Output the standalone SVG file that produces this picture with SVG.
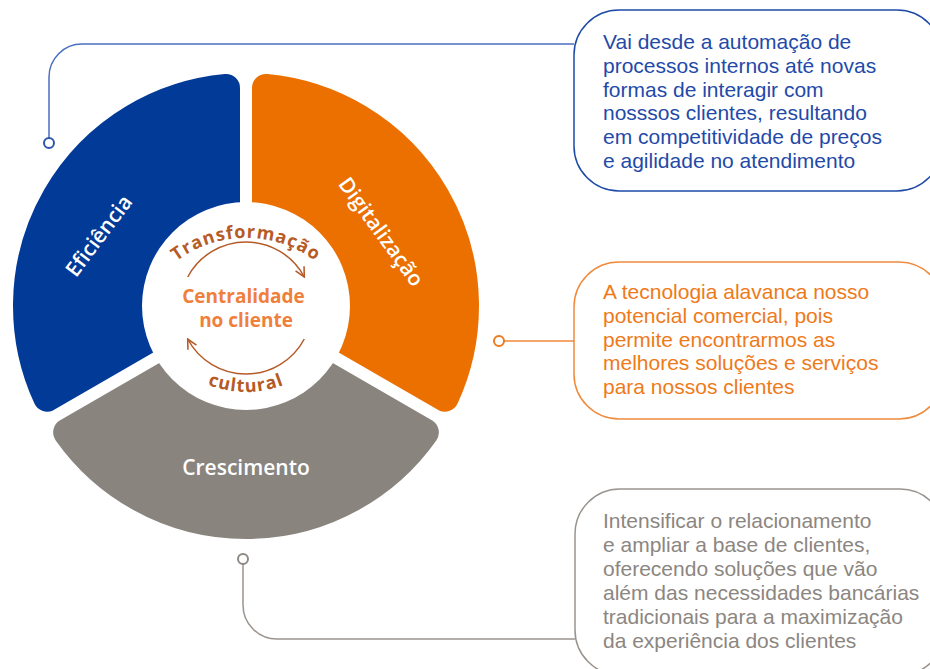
<svg xmlns="http://www.w3.org/2000/svg" width="930" height="669" viewBox="0 0 930 669">
  <style>
    .seg { stroke-width: 28; stroke-linejoin: round; }
    .segtxt { font-family: "Open Sans", "Liberation Sans", sans-serif; font-size: 21px; font-weight: 600; fill: #ffffff; text-anchor: middle; }
    .box { fill: #ffffff; stroke-width: 1.5; }
    .body { font-family: "Liberation Sans", Arial, sans-serif; font-size: 21px; }
    .brown { font-family: "Open Sans", "Liberation Sans", sans-serif; font-size: 18px; font-weight: 700; fill: #b65a26; letter-spacing: 1px; }
    .arc { fill: none; stroke: #b65a26; stroke-width: 1.5; }
    .conn { fill: none; stroke-width: 1.5; }
    .dot { fill: #ffffff; stroke-width: 2; }
  </style>
  <defs>
    <marker id="ah" viewBox="0 0 10 10" markerWidth="12" markerHeight="12" refX="9" refY="5" orient="auto" markerUnits="userSpaceOnUse">
      <path d="M1,1 L9,5 L1,9" fill="none" stroke="#b65a26" stroke-width="1.3"/>
    </marker>
    <path id="tpTop" d="M 137.9 313.7 A 115 115 0 0 1 354.1 313.7"/>
    <path id="tpBot" d="M 165.6 354.5 A 105 105 0 0 0 326.4 354.5"/>
  </defs>
  <rect width="930" height="669" fill="#ffffff"/>

  <g id="connectors">
    <path class="conn" stroke="#4a6fc0" d="M 574 44 H 82 A 33 33 0 0 0 49 77 V 138"/>
    <circle class="dot" stroke="#2d55b0" cx="49" cy="143" r="5"/>
    <path class="conn" stroke="#ef8a3d" d="M 504 341 H 574"/>
    <circle class="dot" stroke="#ec7a1e" cx="499" cy="341" r="5"/>
    <path class="conn" stroke="#9a948f" d="M 243 564 V 605 A 34 34 0 0 0 277 639 H 575"/>
    <circle class="dot" stroke="#8f8984" cx="243" cy="559" r="5"/>
  </g>

  <g id="node-eficiencia">
    <path class="seg" fill="#023a98" stroke="#023a98" d="M 226 294.45 L 226 87.92 A 219 219 0 0 0 47.14 397.72 Z"/>
    <text class="segtxt" transform="translate(99,236) rotate(-53)" x="0" y="7">Eficiência</text>
  </g>

  <g id="node-digitalizacao">
    <path class="seg" fill="#ec7000" stroke="#ec7000" d="M 266 294.45 L 266 87.92 A 219 219 0 0 1 444.86 397.72 Z"/>
    <text class="segtxt" transform="translate(381,232) rotate(54)" x="0" y="7">Digitalização</text>
  </g>

  <g id="node-crescimento">
    <path class="seg" fill="#8a847f" stroke="#8a847f" d="M 246 329.09 L 67.14 432.36 A 219 219 0 0 0 424.86 432.36 Z"/>
    <text class="segtxt" x="246" y="475">Crescimento</text>
  </g>

  <g id="node-centro">
    <circle cx="246" cy="306" r="104" fill="#ffffff"/>
    <path class="arc" marker-end="url(#ah)" d="M 187.7 277 A 66 66 0 0 1 304.3 277"/>
    <path class="arc" marker-end="url(#ah)" d="M 304.3 339 A 66 66 0 0 1 187.7 339"/>
    <text class="brown"><textPath href="#tpTop" startOffset="50%" text-anchor="middle">Transformação</textPath></text>
    <text class="brown"><textPath href="#tpBot" startOffset="50%" text-anchor="middle">cultural</textPath></text>
    <text font-family="'Open Sans', 'Liberation Sans', sans-serif" font-size="19" font-weight="700" fill="#f07f3c" text-anchor="middle">
      <tspan x="246" y="303">Centralidade</tspan>
      <tspan x="246" y="327">no cliente</tspan>
    </text>
  </g>

  <g id="box-1">
    <rect class="box" stroke="#1d4aa6" x="574" y="10" width="368" height="181" rx="45"/>
    <text class="body" fill="#1f4aa8">
      <tspan x="603" y="49">Vai desde a automação de</tspan>
      <tspan x="603" y="72.8">processos internos até novas</tspan>
      <tspan x="603" y="96.6">formas de interagir com</tspan>
      <tspan x="603" y="120.4">nosssos clientes, resultando</tspan>
      <tspan x="603" y="144.2">em competitividade de preços</tspan>
      <tspan x="603" y="168">e agilidade no atendimento</tspan>
    </text>
  </g>

  <g id="box-2">
    <rect class="box" stroke="#f08a3c" x="574" y="262" width="370" height="157" rx="45"/>
    <text class="body" fill="#ee7a1a">
      <tspan x="603" y="299">A tecnologia alavanca nosso</tspan>
      <tspan x="603" y="322.8">potencial comercial, pois</tspan>
      <tspan x="603" y="346.6">permite encontrarmos as</tspan>
      <tspan x="603" y="370.4">melhores soluções e serviços</tspan>
      <tspan x="603" y="394.2">para nossos clientes</tspan>
    </text>
  </g>

  <g id="box-3">
    <rect class="box" stroke="#9a948f" x="575" y="489" width="370" height="186" rx="45"/>
    <text class="body" fill="#8c8681">
      <tspan x="603" y="528">Intensificar o relacionamento</tspan>
      <tspan x="603" y="552">e ampliar a base de clientes,</tspan>
      <tspan x="603" y="576">oferecendo soluções que vão</tspan>
      <tspan x="603" y="600">além das necessidades bancárias</tspan>
      <tspan x="603" y="624">tradicionais para a maximização</tspan>
      <tspan x="603" y="648">da experiência dos clientes</tspan>
    </text>
  </g>
</svg>
